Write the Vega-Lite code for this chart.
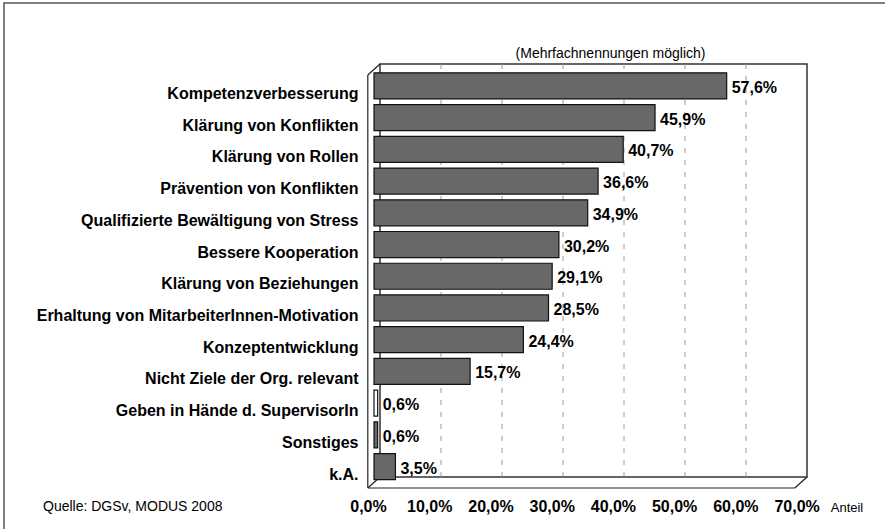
{
  "$schema": "https://vega.github.io/schema/vega-lite/v6.json",
  "width": 883,
  "height": 528,
  "autosize": "none",
  "padding": {"left": 4, "top": 3, "right": -2, "bottom": -2},
  "background": "white",
  "config": {
    "view": {"stroke": "#555", "strokeWidth": 1.5},
    "font": "Liberation Sans",
    "locale": {"number": {"decimal": ",", "thousands": ".", "grouping": [3], "currency": ["", "%"]}}
  },
  "title": {
    "text": "Quelle: DGSv, MODUS 2008",
    "orient": "bottom",
    "anchor": "start",
    "frame": "group",
    "dx": 39,
    "offset": -31,
    "fontSize": 14,
    "fontWeight": "normal",
    "color": "#000",
    "font": "Liberation Sans"
  },
  "layer": [
    {
      "layer": [
        {
          "data": {"values": [{}]},
          "mark": {"type": "rect", "fill": "white", "stroke": "#333", "strokeWidth": 1.5},
          "encoding": {
            "x": {"datum": 0, "type": "quantitative", "scale": {"domain": [0, 70], "range": [376, 803], "nice": false, "zero": false}, "axis": null},
            "x2": {"datum": 70},
            "y": {"datum": 0.026, "type": "quantitative", "scale": {"domain": [0, 1], "range": [485, 61], "nice": false, "zero": false}, "axis": null},
            "y2": {"datum": 1}
          }
        },
        {
          "data": {"values": [{"t": 10}, {"t": 20}, {"t": 30}, {"t": 40}, {"t": 50}, {"t": 60}]},
          "mark": {"type": "rule", "stroke": "#9a9a9a", "strokeDash": [5, 7], "strokeWidth": 1},
          "encoding": {
            "x": {"field": "t", "type": "quantitative", "axis": null},
            "y": {"datum": 0.026, "type": "quantitative", "axis": null},
            "y2": {"datum": 1}
          }
        },
        {
          "data": {"values": [{}]},
          "mark": {"type": "rule", "stroke": "#222", "strokeWidth": 1.2},
          "encoding": {
            "x": {"datum": -2, "type": "quantitative", "axis": null},
            "x2": {"datum": 68},
            "y": {"datum": 0, "type": "quantitative", "axis": null},
            "y2": {"datum": 0}
          }
        },
        {
          "data": {"values": [{}]},
          "mark": {"type": "rule", "stroke": "#222", "strokeWidth": 1.2},
          "encoding": {
            "x": {"datum": 68, "type": "quantitative", "axis": null},
            "x2": {"datum": 70},
            "y": {"datum": 0, "type": "quantitative", "axis": null},
            "y2": {"datum": 0.026}
          }
        },
        {
          "data": {"values": [{}]},
          "mark": {"type": "rule", "stroke": "#222", "strokeWidth": 1.2},
          "encoding": {
            "x": {"datum": -2, "type": "quantitative", "axis": null},
            "x2": {"datum": 0},
            "y": {"datum": 0, "type": "quantitative", "axis": null},
            "y2": {"datum": 0.026}
          }
        },
        {
          "data": {"values": [{}]},
          "mark": {"type": "rule", "stroke": "#222", "strokeWidth": 1.2},
          "encoding": {
            "x": {"datum": -2, "type": "quantitative", "axis": null},
            "x2": {"datum": -2},
            "y": {"datum": 0, "type": "quantitative", "axis": null},
            "y2": {"datum": 0.974}
          }
        },
        {
          "data": {"values": [{}]},
          "mark": {"type": "rule", "stroke": "#222", "strokeWidth": 1.2},
          "encoding": {
            "x": {"datum": -2, "type": "quantitative", "axis": null},
            "x2": {"datum": 0},
            "y": {"datum": 0.974, "type": "quantitative", "axis": null},
            "y2": {"datum": 1}
          }
        }
      ]
    },
    {
      "data": {
        "values": [
          {"category": "Kompetenzverbesserung", "value": 57.6},
          {"category": "Klärung von Konflikten", "value": 45.9},
          {"category": "Klärung von Rollen", "value": 40.7},
          {"category": "Prävention von Konflikten", "value": 36.6},
          {"category": "Qualifizierte Bewältigung von Stress", "value": 34.9},
          {"category": "Bessere Kooperation", "value": 30.2},
          {"category": "Klärung von Beziehungen", "value": 29.1},
          {"category": "Erhaltung von MitarbeiterInnen-Motivation", "value": 28.5},
          {"category": "Konzeptentwicklung", "value": 24.4},
          {"category": "Nicht Ziele der Org. relevant", "value": 15.7},
          {"category": "Geben in Hände d. SupervisorIn", "value": 0.6},
          {"category": "Sonstiges", "value": 0.6},
          {"category": "k.A.", "value": 3.5}
        ]
      },
      "encoding": {
        "y": {
          "field": "category",
          "type": "nominal",
          "sort": null,
          "scale": {"range": [67, 479.5], "paddingInner": 0.18, "paddingOuter": 0.09},
          "axis": {
            "orient": "left",
            "offset": -354,
            "domain": false,
            "ticks": false,
            "tickSize": 0,
            "labelPadding": 0,
            "labelOffset": 8,
            "labelFontSize": 16,
            "labelFontWeight": "bold",
            "labelColor": "#000",
            "labelFont": "Liberation Sans",
            "labelLimit": 0,
            "labelAlign": "right",
            "labelBaseline": "middle",
            "title": "(Mehrfachnennungen möglich)",
            "titleAngle": 0,
            "titleX": 252,
            "titleY": 50.5,
            "titleAlign": "center",
            "titleBaseline": "middle",
            "titleFontSize": 14,
            "titleFontWeight": "normal",
            "titleColor": "#000",
            "titleFont": "Liberation Sans"
          }
        },
        "x": {
          "field": "value",
          "type": "quantitative",
          "scale": {"domain": [0, 70], "range": [370, 798.6], "nice": false, "zero": true},
          "axis": {
            "orient": "bottom",
            "offset": -33,
            "values": [0, 10, 20, 30, 40, 50, 60, 70],
            "format": "$.1f",
            "labelOffset": -6,
            "labelPadding": 0,
            "labelBaseline": "top",
            "labelFontSize": 16,
            "labelFontWeight": "bold",
            "labelColor": "#000",
            "labelFont": "Liberation Sans",
            "labelFlush": false,
            "labelOverlap": false,
            "ticks": false,
            "tickSize": 0,
            "domain": false,
            "grid": false,
            "title": "Anteil",
            "titleX": 842.5,
            "titleY": 3,
            "titleAlign": "center",
            "titleBaseline": "top",
            "titleFontSize": 13,
            "titleFontWeight": "normal",
            "titleColor": "#000",
            "titleFont": "Liberation Sans"
          }
        }
      },
      "layer": [
        {
          "mark": {"type": "bar", "stroke": "#111", "strokeWidth": 1.2},
          "encoding": {
            "fill": {
              "condition": {"test": "datum.category === 'Geben in Hände d. SupervisorIn'", "value": "#ffffff"},
              "value": "#686868"
            }
          }
        },
        {
          "mark": {"type": "text", "align": "left", "baseline": "middle", "dx": 5, "dy": 2, "fontSize": 16, "fontWeight": "bold", "font": "Liberation Sans", "color": "#000"},
          "encoding": {
            "text": {"field": "value", "type": "quantitative", "format": "$.1f"}
          }
        }
      ]
    }
  ],
  "resolve": {"scale": {"x": "independent", "y": "independent"}}
}
